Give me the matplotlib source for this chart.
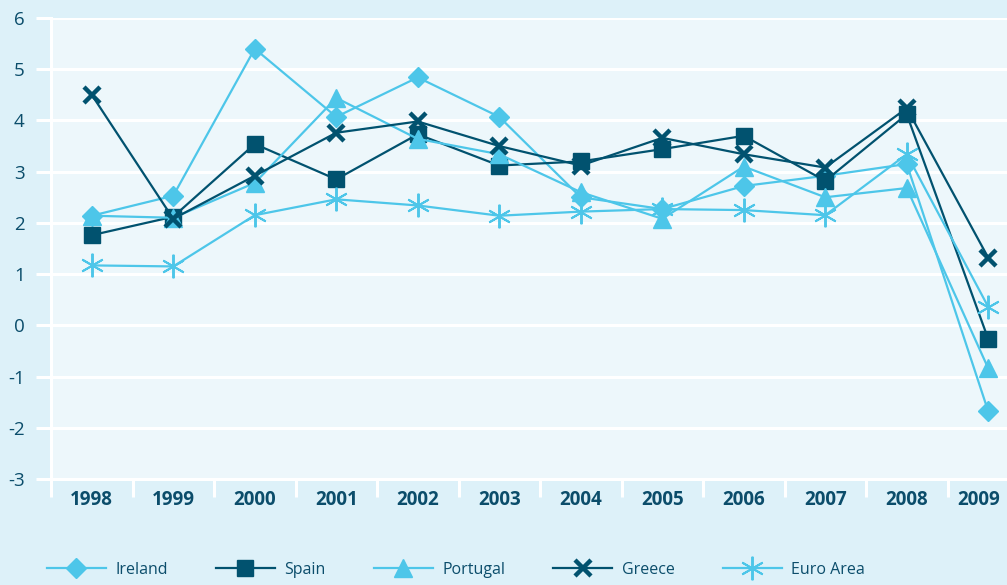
import matplotlib.pyplot as plt
import matplotlib.transforms as mtransforms
import numpy as np

years = ["1998", "1999", "2000", "2001", "2002", "2003",
         "2004", "2005", "2006", "2007", "2008", "2009"]
ireland = [2.14, 2.53, 5.40, 4.07, 4.84, 4.07, 2.50, 2.27, 2.72, 2.92, 3.15, -1.68]
spain = [1.76, 2.12, 3.54, 2.85, 3.73, 3.12, 3.20, 3.44, 3.70, 2.82, 4.12, -0.27]
portugal = [2.14, 2.10, 2.78, 4.44, 3.64, 3.34, 2.60, 2.08, 3.10, 2.50, 2.68, -0.84]
greece = [4.50, 2.08, 2.92, 3.76, 3.98, 3.50, 3.12, 3.66, 3.34, 3.08, 4.24, 1.32]
euro_area = [1.17, 1.15, 2.15, 2.46, 2.34, 2.14, 2.22, 2.27, 2.25, 2.15, 3.34, 0.36]

navy = "#01526f"
cyan = "#4dc6e9"
text_col = "#0b4d6b"
outer_bg = "#ddf1f9"
plot_bg = "#edf7fb"

plt.rcParams["font.family"] = ["Open Sans", "DejaVu Sans"]

fig = plt.figure(figsize=(10.07, 5.85), dpi=100, facecolor=outer_bg)
ax = fig.add_axes([51 / 1007, 106 / 585, 956 / 1007, 461 / 585])
ax.set_facecolor(plot_bg)

x = np.arange(len(years))
ax.plot(x, ireland, color=cyan, lw=1.6, marker="D", ms=10, label="Ireland", zorder=3)
ax.plot(x, spain, color=navy, lw=1.6, marker="s", ms=12, label="Spain", zorder=3)
ax.plot(x, portugal, color=cyan, lw=1.6, marker="^", ms=13, label="Portugal", zorder=3)
ax.plot(x, greece, color=navy, lw=1.6, marker="x", ms=12, mew=3.2, label="Greece", zorder=3)
ax.plot(x, euro_area, color=cyan, lw=1.6, marker=(6, 2, 0), ms=17, mew=1.4,
        label="Euro Area", zorder=3)

ax.set_xlim(-0.5, 11.23)
ax.set_ylim(-3, 6)

# white horizontal grid, ticks reach past the left edge
ax.set_yticks(range(-3, 7))
ax.set_yticklabels([str(v) for v in range(-3, 7)], fontsize=13.5, color=text_col)
ax.grid(axis="y", color="white", lw=2.2)
ax.tick_params(axis="y", length=11, width=2.2, color="white", pad=8)

# category separators below the plot
ax.set_xticks(x)
ax.set_xticklabels(years, fontsize=13.5, fontweight="bold", color=text_col)
ax.set_xticks(np.arange(-0.5, 11, 1), minor=True)
ax.tick_params(axis="x", which="major", length=0, pad=8)
ax.tick_params(axis="x", which="minor", length=13, width=2.2, color="white")

# last year sits at the figure edge, nudge it left so it stays readable
last = ax.get_xticklabels()[-1]
last.set_transform(last.get_transform() +
                   mtransforms.ScaledTranslation(-10 / 100, 0, fig.dpi_scale_trans))

for side in ["top", "right"]:
    ax.spines[side].set_visible(False)
ax.spines["left"].set_color("white")
ax.spines["left"].set_linewidth(2.2)
ax.spines["bottom"].set_color("white")
ax.spines["bottom"].set_linewidth(2.2)
ax.set_axisbelow(True)

leg = fig.legend(loc="center left", bbox_to_anchor=(0.032, 15 / 585), ncol=5,
                 frameon=False, fontsize=11.5, handlelength=3.7, handletextpad=0.6,
                 columnspacing=3.0, labelcolor=text_col)

fig.savefig("out.png", dpi=100, facecolor=outer_bg)
